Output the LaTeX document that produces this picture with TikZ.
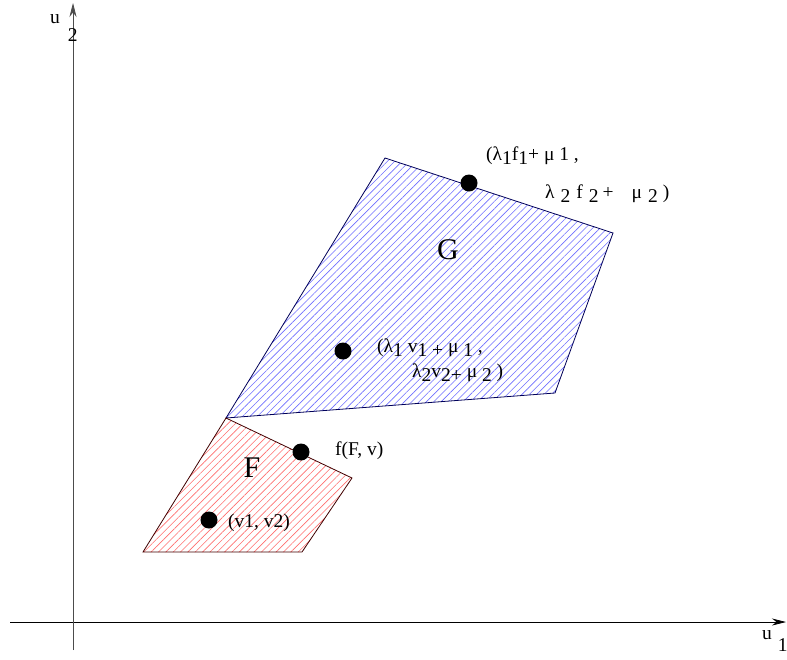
\documentclass[tikz,border=0pt]{standalone}
\usepackage{fontspec}
\setmainfont{Liberation Serif}
\usetikzlibrary{arrows.meta,patterns.meta}
\definecolor{hatchblue}{RGB}{110,110,255}
\definecolor{hatchred}{RGB}{255,110,110}
\newcommand{\dn}[1]{\raisebox{-0.5ex}{#1}}

\begin{document}
\begin{tikzpicture}[x=1pt, y=-1pt, >={Stealth[length=14pt,width=7pt]}]
    \tikzset{dot/.style={circle, fill=black, inner sep=0pt, minimum size=17pt},
        lbl/.style={anchor=base west, inner sep=0pt, font=\fontsize{19.5}{21}\selectfont},
        region/.style={font=\fontsize{30}{32}\selectfont},
        gset/.style={draw=blue!35!black, line width=0.8pt, pattern={Lines[angle=45,distance=5.2pt,line width=0.6pt]}, pattern color=hatchblue},
        fset/.style={draw=red!25!black, line width=0.8pt, pattern={Lines[angle=45,distance=5.2pt,line width=0.6pt]}, pattern color=hatchred}}
    \useasboundingbox (0,0) rectangle (787,659);
    % axes
    \coordinate (x0) at (10,622);
    \coordinate (x1) at (786,622);
    \coordinate (y0) at (73,650);
    \coordinate (y1) at (73,3);
    \draw[->, line width=0.7pt] (x0) -- (x1);
    \draw[->, line width=0.7pt, black!70] (y0) -- (y1);
    \node[lbl] (u1) at (762,639) {u\hspace{6pt}\raisebox{-12pt}{1}};
    \node[lbl] (u2) at (50,23) {u\hspace{8pt}\raisebox{-18pt}{2}};
    % the two sets
    \coordinate (g1) at (385,158);
    \coordinate (g2) at (613,233);
    \coordinate (g3) at (555,393);
    \coordinate (g4) at (226,418);
    \coordinate (f1) at (352,478);
    \coordinate (f2) at (302,552);
    \coordinate (f3) at (143,552);
    \draw[gset] (g1) -- (g2) -- (g3) -- (g4) -- cycle;
    \draw[fset] (g4) -- (f1) -- (f2) -- (f3) -- cycle;
    \node[region] (G) at (448,250) {G};
    \node[region] (F) at (252,468) {F};
    % points
    \node[dot] (pg) at (469,183) {};
    \node[dot] (pm) at (343,351) {};
    \node[dot] (pf) at (301,452) {};
    \node[dot] (pv) at (209,520) {};
    \node[lbl] (lg1) at (486,160) {(λ\dn{1}f\dn{1}+ μ 1 ,};
    \node[lbl] (lg2) at (545,198) {λ\hspace{6pt}\dn{2}\hspace{6pt}f\hspace{6pt}\dn{2}\hspace{4pt}+\hspace{18pt}μ\hspace{6pt}\dn{2}\hspace{5pt})};
    \node[lbl] (lm1) at (377,352) {(λ\dn{1} v\dn{1} \dn{+} μ \dn{1} ,};
    \node[lbl] (lm2) at (412,377) {λ\dn{2}v\dn{2}\dn{+} μ \dn{2} )};
    \node[lbl] (lf) at (335,455) {f(F, v)};
    \node[lbl] (lv) at (228,527) {(v1, v2)};
\end{tikzpicture}
\end{document}
